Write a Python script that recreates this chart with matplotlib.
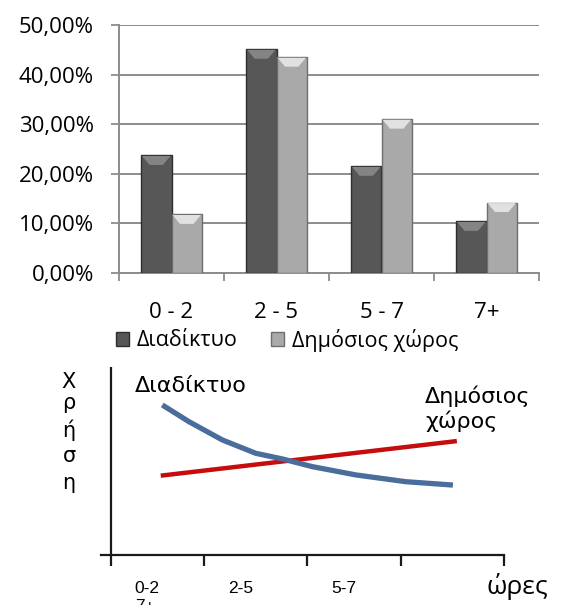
import matplotlib
matplotlib.use("Agg")
import matplotlib.pyplot as plt
from matplotlib.patches import Polygon, Rectangle
from matplotlib.ticker import FuncFormatter

# ---------------- data ----------------
categories = ["0 - 2", "2 - 5", "5 - 7", "7+"]
internet = [23.7, 45.1, 21.5, 10.4]
public_space = [11.8, 43.5, 31.0, 14.2]
series_names = ["Διαδίκτυο", "Δημόσιος χώρος"]

# schematic (lower) chart
sketch_ticks = [0, 0.947, 1.995, 2.95, 4]
sketch_tick_labels = ["0-2", "2-5", "5-7", ""]
internet_curve_x = [0.522, 0.794, 1.133, 1.473, 1.744, 2.049, 2.491, 3.0, 3.48]
internet_curve_y = [7.98, 7.09, 6.12, 5.41, 5.11, 4.70, 4.26, 3.90, 3.72]
public_line_x = [0.506, 3.52]
public_line_y = [4.22, 6.06]

W, H = 563, 605
fig = plt.figure(figsize=(W / 100, H / 100), dpi=100)

def fx(px):
    return px / W

def fy(py):
    return 1 - py / H

# ---------------- top bar chart ----------------
ax = fig.add_axes([fx(119), fy(273), fx(539) - fx(119), fy(25) - fy(273)])
bw = 0.29
xs = list(range(len(categories)))
dark_face, dark_edge, dark_bevel = "#575757", "#2e2e2e", "#8a8a8a"
light_face, light_edge, light_bevel = "#a9a9a9", "#6e6e6e", "#e8e8e8"

bars_d = ax.bar([x - bw / 2 for x in xs], internet, width=bw, color=dark_face,
                edgecolor=dark_edge, linewidth=1.0, zorder=3)
bars_l = ax.bar([x + bw / 2 for x in xs], public_space, width=bw, color=light_face,
                edgecolor=light_edge, linewidth=1.0, zorder=3)

# bevel highlight on top of each bar
bev_h = 1.9
for bars, col in ((bars_d, dark_bevel), (bars_l, light_bevel)):
    for b in bars:
        x0, w, h = b.get_x(), b.get_width(), b.get_height()
        poly = Polygon([[x0 + 0.01, h - 0.1], [x0 + w - 0.01, h - 0.1],
                        [x0 + w * 0.72, h - bev_h], [x0 + w * 0.28, h - bev_h]],
                       closed=True, facecolor=col, edgecolor="none", zorder=4, alpha=0.9)
        ax.add_patch(poly)

ax.set_xlim(-0.5, len(categories) - 0.5)
ax.set_ylim(0, 50)
ax.set_yticks([0, 10, 20, 30, 40, 50])
ax.yaxis.set_major_formatter(FuncFormatter(lambda v, p: f"{v:.2f}%".replace(".", ",")))
ax.set_xticks(xs)
ax.set_xticklabels(categories)
ax.set_xticks([x - 0.5 for x in xs] + [len(xs) - 0.5], minor=True)
ax.tick_params(axis="x", which="major", length=0, pad=21)
ax.tick_params(axis="x", which="minor", length=6, color="#8c8c8c", width=1.3)
ax.tick_params(axis="y", length=6, color="#8c8c8c", width=1.3, pad=12)
for lab in ax.get_xticklabels() + ax.get_yticklabels():
    lab.set_fontfamily("Open Sans")
    lab.set_fontsize(16)
    lab.set_color("#000000")
ax.grid(axis="y", color="#8c8c8c", linewidth=1.4, zorder=0)
ax.set_axisbelow(True)
for s in ("top", "right"):
    ax.spines[s].set_visible(False)
for s in ("left", "bottom"):
    ax.spines[s].set_color("#8c8c8c")
    ax.spines[s].set_linewidth(1.4)

handles = [Rectangle((0, 0), 1, 1, facecolor=dark_face, edgecolor=dark_edge),
           Rectangle((0, 0), 1, 1, facecolor=light_face, edgecolor=light_edge)]
leg = fig.legend(handles, series_names, loc="center", bbox_to_anchor=(fx(287), fy(340)),
                 ncol=2, frameon=False, handlelength=0.6, handleheight=0.6,
                 handletextpad=0.35, columnspacing=1.6, borderpad=0.1,
                 prop={"family": "Open Sans", "size": 15.5})

# ---------------- lower schematic chart ----------------
ax2 = fig.add_axes([fx(101), fy(555), fx(504) - fx(101), fy(367) - fy(555)])
ax2.set_xlim(-0.102, 4)
ax2.set_ylim(0, 10)
ax2.plot(internet_curve_x, internet_curve_y, color="#4a6d9c", linewidth=3.8,
         solid_capstyle="butt", zorder=3)
ax2.plot(public_line_x, public_line_y, color="#c60c0c", linewidth=3.2,
         solid_capstyle="butt", zorder=2)
ax2.axvline(0, color="#1a1a1a", linewidth=1.6)
for s in ("top", "right", "left"):
    ax2.spines[s].set_visible(False)
ax2.spines["bottom"].set_linewidth(1.6)
ax2.spines["bottom"].set_color("#1a1a1a")
ax2.set_yticks([])
ax2.set_xticks(sketch_ticks)
ax2.set_xticklabels([])
ax2.tick_params(axis="x", length=8, width=1.6, color="#1a1a1a")
ax2.patch.set_alpha(0)

lab_font = {"family": "Liberation Sans", "color": "#000000"}
dv_font = {"family": "DejaVu Sans", "color": "#000000"}
for pos, lab in zip(sketch_ticks, sketch_tick_labels):
    if lab:
        ax2.text(pos + 0.37, 0, lab, ha="center", va="baseline", fontsize=12.5,
                 fontdict=lab_font, transform=ax2.get_xaxis_transform(), clip_on=False)
# move those labels down to the reference baseline (593 px)
for t in ax2.texts:
    x_data = t.get_position()[0]
    t.set_transform(matplotlib.transforms.blended_transform_factory(ax2.transData, fig.transFigure))
    t.set_position((x_data, fy(593)))
fig.text(fx(135), fy(599), "7+", ha="left", va="top", fontsize=12.5, fontdict=lab_font)
fig.text(fx(487), fy(594), "ώρες", ha="left", va="baseline", fontsize=19,
         family="Open Sans", color="#000000")
for ch, yb in zip("Χρήση", [388, 409, 437, 462, 489]):
    fig.text(fx(69), fy(yb), ch, ha="center", va="baseline", fontsize=15,
             fontdict=dv_font)
fig.text(fx(135), fy(392), "Διαδίκτυο", ha="left", va="baseline", fontsize=16,
         fontdict=dv_font)
fig.text(fx(425), fy(403), "Δημόσιος", ha="left", va="baseline", fontsize=16,
         fontdict=dv_font)
fig.text(fx(425), fy(428), "χώρος", ha="left", va="baseline", fontsize=16,
         fontdict=dv_font)

fig.savefig("out.png", dpi=100)
